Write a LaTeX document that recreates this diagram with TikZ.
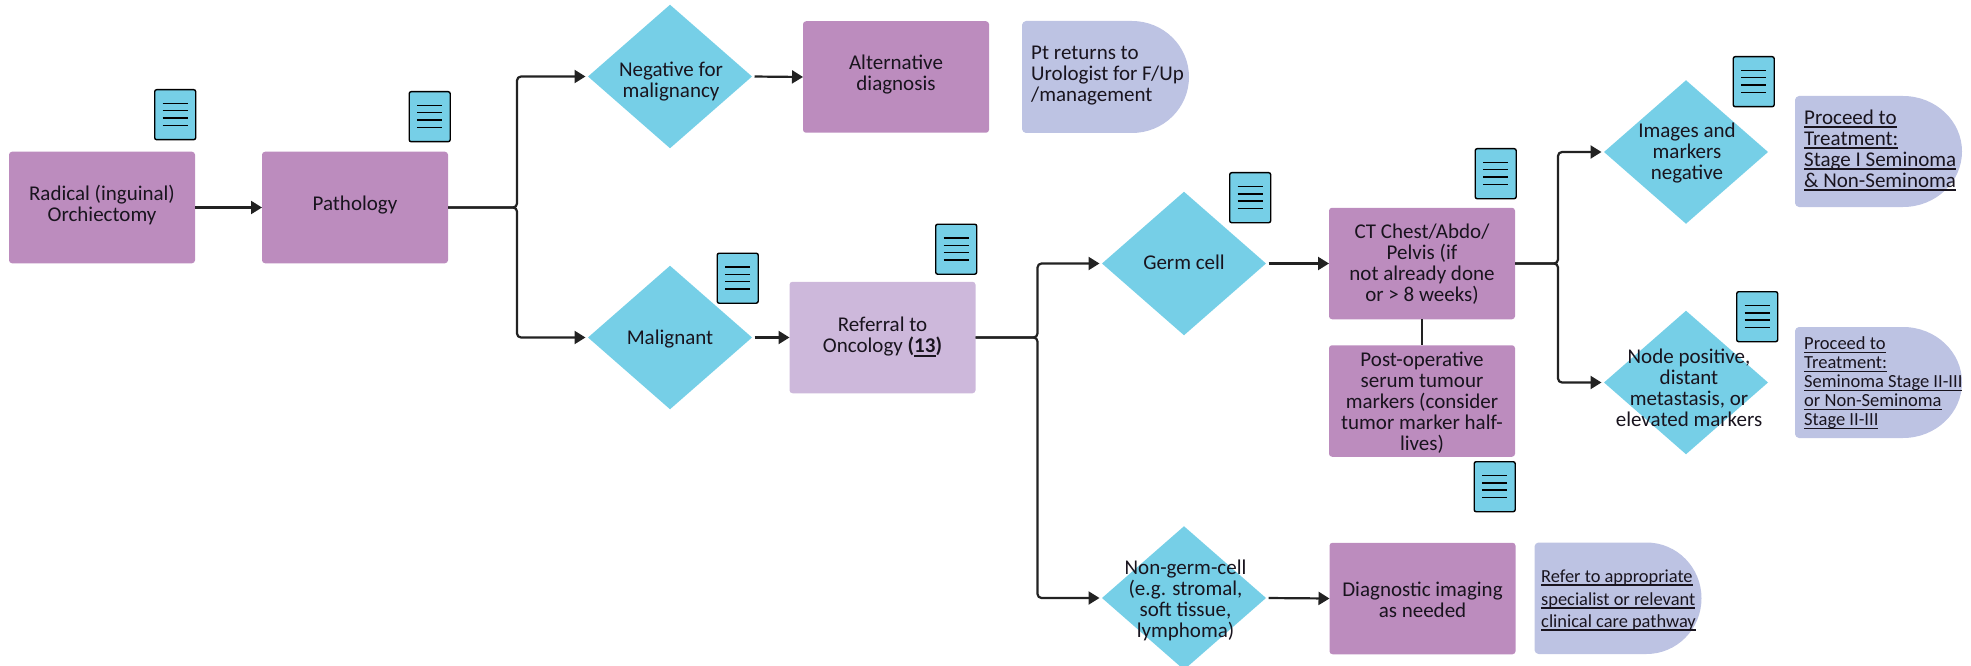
\documentclass[tikz,border=0pt]{standalone}
\usepackage{fontspec}
\setmainfont{Carlito}
\usetikzlibrary{arrows.meta,shapes.geometric}
\definecolor{boxc}{RGB}{188,140,190}
\definecolor{lightc}{RGB}{205,184,219}
\definecolor{diac}{RGB}{118,207,231}
\definecolor{termc}{RGB}{189,195,227}
\definecolor{linec}{RGB}{34,34,34}
\definecolor{txtc}{RGB}{25,20,30}
\tikzset{
  x=1pt,y=-1pt,
  txt/.style={font=\fontsize{21}{21}\selectfont,text=txtc,align=center,inner sep=0pt,yshift=-1.5pt},
  boxnode/.style={rectangle,rounded corners=3pt,fill=boxc,minimum width=186pt,minimum height=111.5pt,inner sep=0pt,outer sep=0pt},
  dianode/.style={diamond,fill=diac,minimum width=164pt,minimum height=143.5pt,inner sep=0pt,outer sep=0pt},
  docnode/.style={rectangle,draw=black,fill=diac,line width=1.4pt,rounded corners=2pt,minimum width=41pt,minimum height=50pt,inner sep=0pt,anchor=north west},
  docline/.style={black,line width=1.4pt},
  conn/.style={draw=linec,line width=2.2pt,rounded corners=4pt},
  arr/.style={conn,-{Triangle[length=11pt,width=13pt]}},
  gapin/.style={shorten >=2.5pt},
  gapout/.style={shorten <=2.5pt}
}
\newcommand{\termshape}[6]{% x1 y1 x2 y2 rx ymid
  \fill[termc] ({#1+4},#2) -- ({#3-#5},#2)
    .. controls ({#3-#5*0.448},#2) and (#3,{#6-(#4-#2)/2*0.5523}) .. (#3,#6)
    .. controls (#3,{#6+(#4-#2)/2*0.5523}) and ({#3-#5*0.448},#4) .. ({#3-#5},#4)
    -- ({#1+4},#4) .. controls ({#1+2},#4) and (#1,{#4-2}) .. (#1,{#4-4})
    -- (#1,{#2+4}) .. controls (#1,{#2+2}) and ({#1+2},#2) .. ({#1+4},#2) -- cycle;
}
\newcommand{\docicon}[3]{% name x1 y1
  \node[docnode] (#1) at ({#2},{#3}) {};
  \foreach \dy in {14.5,21.8,29.1,36.4}{\draw[docline] ({#2+8.5},{#3+\dy}) -- ({#2+33.5},{#3+\dy});}
}
\newcommand{\ulx}[2][1.9pt]{\setbox0=\hbox{#2}\rlap{\rule[-3.6pt]{\wd0}{#1}}\box0 }
\begin{document}
\begin{tikzpicture}
\useasboundingbox (0,0) rectangle (1971,666);
\node[boxnode] (rad) at (102,207.5) {};
\node[boxnode] (path) at (355,207.5) {};
\node[boxnode] (alt) at (896,77) {};
\node[boxnode,fill=lightc] (ref) at (882.5,337.5) {};
\node[boxnode] (ct) at (1422,263.5) {};
\node[boxnode] (post) at (1422,401) {};
\node[boxnode] (diag) at (1422.5,598.5) {};
\node[dianode] (neg) at (670,76.5) {};
\node[dianode] (mal) at (670,337.5) {};
\node[dianode] (germ) at (1184,263.5) {};
\node[dianode] (nong) at (1184,598) {};
\node[dianode] (img) at (1686,152) {};
\node[dianode] (nod) at (1686,382.5) {};
\termshape{1022}{21}{1189}{133}{57}{77}
\termshape{1795}{96}{1962}{207}{59}{151.5}
\termshape{1795}{327}{1962}{438}{59}{382.5}
\termshape{1534.5}{542.5}{1701.5}{654}{55}{598.25}
\node[txt] (radT) at ([yshift=4pt]rad) {Radical (inguinal)\\Orchiectomy};
\node[txt] (pathT) at ([yshift=3.5pt]path) {Pathology};
\node[txt] (altT) at ([yshift=4pt]alt) {Alternative\\diagnosis};
\node[txt] (refT) at ([yshift=2pt]ref) {Referral to\\Oncology \textbf{(\ulx{13})}};
\node[txt] (ctT) at ([yshift=1pt]ct) {CT Chest/Abdo/\\Pelvis (if\\not already done\\or > 8 weeks)};
\node[txt] (postT) at ([yshift=-.5pt]post) {Post-operative\\serum tumour\\markers (consider\\tumor marker half-\\lives)};
\node[txt] (diagT) at (diag) {Diagnostic imaging\\as needed};
\node[txt] (negT) at ([yshift=-4pt,xshift=1pt]neg) {Negative for\\malignancy};
\node[txt] (malT) at (mal) {Malignant};
\node[txt] (germT) at ([yshift=3pt]germ) {Germ cell};
\node[txt] (nongT) at ([yshift=-1pt,xshift=1.5pt]nong) {Non-germ-cell\\(e.g. stromal,\\soft tissue,\\lymphoma)};
\node[txt] (imgT) at ([xshift=1pt]img) {Images and\\markers\\negative};
\node[txt] (nodT) at ([yshift=-4pt,xshift=3pt]nod) {Node positive,\\distant\\metastasis, or\\elevated markers};
\node[txt,align=left,anchor=west] (ptT) at (1031,74.5) {Pt returns to\\Urologist for F/Up\\/management};
\node[txt,align=left,anchor=west] (pro1T) at (1804,148.7) {\ulx{Proceed to}\\\ulx{Treatment:}\\\ulx{Stage I Seminoma}\\\ulx{\& Non-Seminoma}};
\node[txt,font=\fontsize{18.5}{19}\selectfont,align=left,anchor=west] (pro2T) at (1804,381.7) {\ulx[1.2pt]{Proceed to}\\\ulx[1.2pt]{Treatment:}\\\ulx[1.2pt]{Seminoma Stage II-III}\\\ulx[1.2pt]{or Non-Seminoma}\\\ulx[1.2pt]{Stage II-III}};
\node[txt,font=\fontsize{18.4}{22.5}\selectfont,align=left,anchor=west] (referT) at (1541,599) {\ulx{Refer to appropriate}\\\ulx{specialist or relevant}\\\ulx{clinical care pathway}};
\docicon{d1}{154}{89}
\docicon{d2}{408.5}{91}
\docicon{d3}{716.5}{252.5}
\docicon{d4}{935}{223.5}
\docicon{d5}{1229}{172}
\docicon{d6}{1474.5}{148}
\docicon{d7}{1473.5}{461}
\docicon{d8}{1732.5}{56}
\docicon{d9}{1736}{291}
\coordinate (b1) at (517,207.5);
\coordinate (b2) at (1037.5,337.5);
\coordinate (b3) at (1558,263.5);
\draw[arr] (rad.east) -- (path.west);
\draw[arr,gapin] (path.east) -- (b1) |- (neg.west);
\draw[arr,gapin] (path.east) -- (b1) |- (mal.west);
\draw[arr,gapout] (neg.east) -- (alt.west);
\draw[arr,gapout] (mal.east) -- (ref.west);
\draw[arr,gapin] (ref.east) -- (b2) |- (germ.west);
\draw[arr,gapin] (ref.east) -- (b2) |- (nong.west);
\draw[arr,gapout] (germ.east) -- (ct.west);
\draw[arr,gapout] (nong.east) -- (diag.west);
\draw[arr,gapin] (ct.east) -- (b3) |- (img.west);
\draw[arr,gapin] (ct.east) -- (b3) |- (nod.west);
\draw[conn,line width=1.8pt] (ct.south) -- (post.north);
\end{tikzpicture}
\end{document}
